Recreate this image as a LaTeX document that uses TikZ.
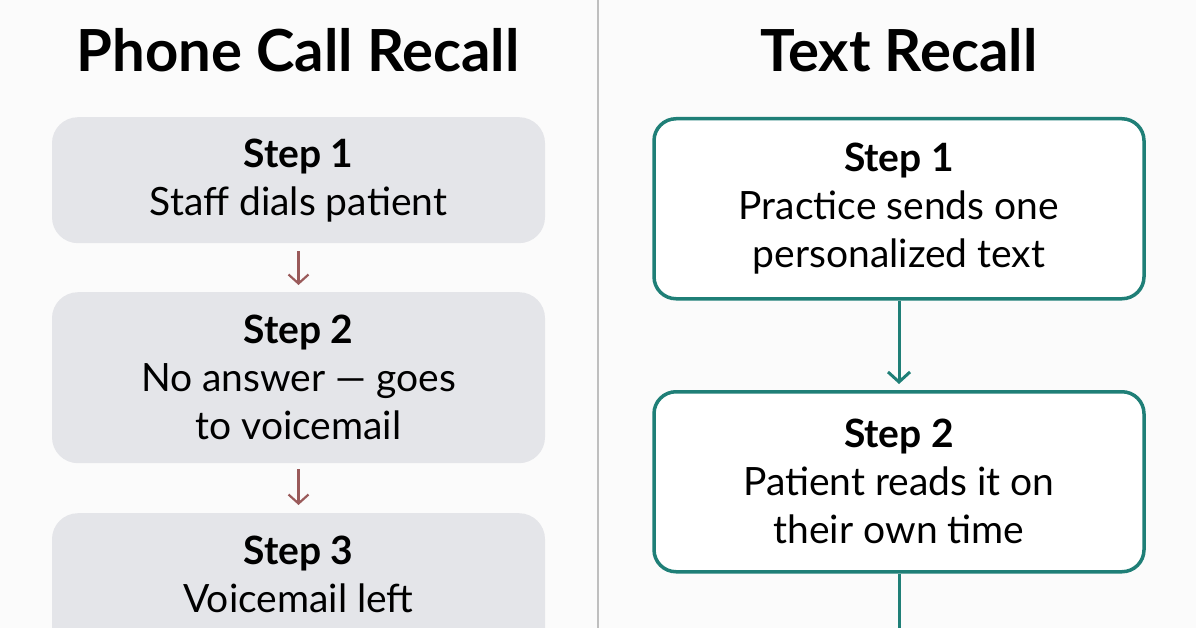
\documentclass[tikz,border=0pt]{standalone}
\usepackage{fontspec}
\setmainfont{Lato}
\usetikzlibrary{arrows.meta}
\definecolor{gbox}{HTML}{E4E5E9}
\definecolor{teal}{HTML}{1F7F77}
\definecolor{brn}{HTML}{9A5A5A}
\begin{document}
\begin{tikzpicture}[x=1pt,y=-1pt,
  title/.style={font=\fontsize{58}{64}\selectfont\bfseries},
  gstep/.style={fill=gbox,rounded corners=26pt,minimum width=493pt,inner sep=0pt,align=center,anchor=north,font=\fontsize{39}{48}\selectfont},
  tstep/.style={draw=teal,line width=3.5pt,fill=white,rounded corners=22pt,minimum width=490pt,inner sep=0pt,align=center,anchor=north,font=\fontsize{39}{48}\selectfont},
  garr/.style={draw=brn,line width=2.2pt,-{Straight Barb[length=9pt,width=20pt]}},
  tarr/.style={draw=teal,line width=3pt,-{Straight Barb[length=10pt,width=22pt]}}]
\useasboundingbox (0,0) rectangle (1196,628);
\clip (0,0) rectangle (1196,628);
\fill[white!97!gray] (0,0) rectangle (1196,628);
\draw[gray!50,line width=2pt] (598,0) -- (598,628);
\node[title] (t1) at (298,50) {Phone Call Recall};
\node[title] (t2) at (899,50) {Text Recall};
\node[gstep,minimum height=126pt] (g1) at (298.5,117) {\textbf{Step 1}\\Staff dials patient};
\node[gstep,minimum height=171pt] (g2) at (298.5,292) {\textbf{Step 2}\\No answer — goes\\to voicemail};
\node[gstep,minimum height=240pt,text depth=0pt] (g3) at (298.5,513) {};
\node[font=\fontsize{39}{48}\selectfont,align=center,anchor=north] (g3t) at (298.5,532) {\textbf{Step 3}\\Voicemail left};
\draw[garr] ([yshift=-8pt]g1.south) -- ([yshift=7pt]g2.north);
\draw[garr] ([yshift=-6pt]g2.south) -- ([yshift=8pt]g3.north);
\node[tstep,minimum height=180pt] (s1) at (899,117) {\textbf{Step 1}\\Practice sends one\\personalized text};
\node[tstep,minimum height=180pt] (s2) at (899,390) {\textbf{Step 2}\\Patient reads it on\\their own time};
\coordinate (e) at (899,640);
\draw[tarr] (s1.south) -- ([yshift=6pt]s2.north);
\draw[teal,line width=3pt] (s2.south) -- (e);
\end{tikzpicture}
\end{document}
